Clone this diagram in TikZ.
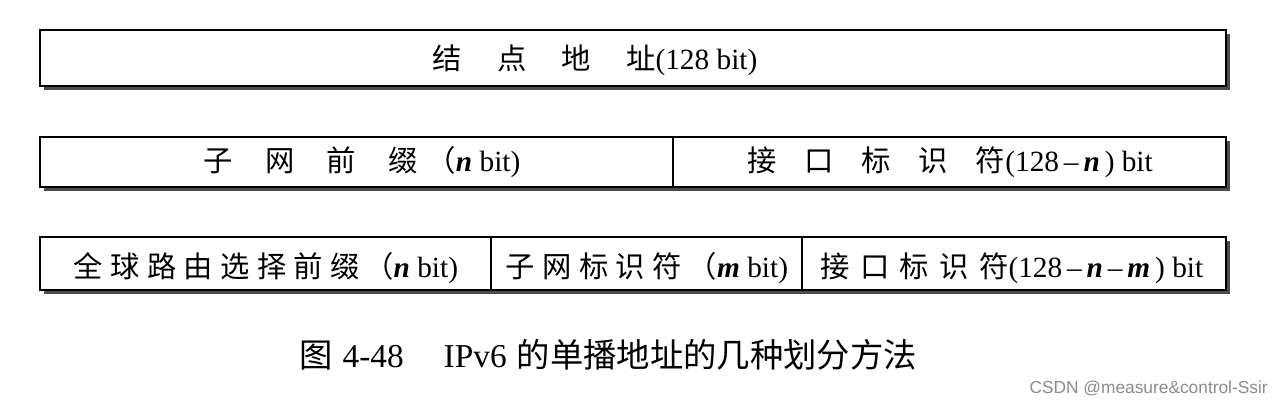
\documentclass[tikz,border=0pt]{standalone}
\usepackage{fontspec}
\setmainfont{Liberation Serif}
\newfontfamily\cjk{Noto Sans CJK SC}
\newfontfamily\wmfont{Liberation Sans}
\newcommand{\zh}[1]{{\cjk #1}}
\newcommand{\vb}[1]{\textbf{\textit{#1}}}
\begin{document}
\begin{tikzpicture}[x=0.75pt,y=-0.75pt,
  box/.style={draw=black, line width=2pt, fill=white},
  shade/.style={fill=black!70},
  divider/.style={draw=black, line width=1.2pt},
  lbl/.style={font=\fontsize{22}{26}\selectfont, inner sep=0pt},
  captext/.style={font=\fontsize{25}{30}\selectfont, inner sep=0pt},
  wm/.style={font=\wmfont\fontsize{13}{15}\selectfont, text=black!45, inner sep=0pt}]
\useasboundingbox (0,0) rectangle (1280,408);
\fill[white] (0,0) rectangle (1280,408);

% row 1
\fill[shade] (44,34) rectangle (1230,90);
\draw[box] (40,30) rectangle (1226,86);
\node[lbl] (t1) at (595,60) {\zh{结}\hspace{1.2em}\zh{点}\hspace{1.2em}\zh{地}\hspace{1.2em}\zh{址}(128 bit)};

% row 2
\fill[shade] (44,141) rectangle (1230,191);
\draw[box] (40,137) rectangle (1226,187);
\coordinate (d2t) at (673,137);
\coordinate (d2b) at (673,187);
\draw[divider] (d2t) -- (d2b);
\node[lbl] (t2l) at (362,162) {\zh{子}\hspace{1.1em}\zh{网}\hspace{1.1em}\zh{前}\hspace{1.1em}\zh{缀}\hspace{0.3em}\zh{（}\vb{n} bit)};
\node[lbl] (t2r) at (950,162) {\zh{接}\hspace{0.95em}\zh{口}\hspace{0.95em}\zh{标}\hspace{0.95em}\zh{识}\hspace{0.95em}\zh{符}(128\,--\,\vb{n}\,) bit};

% row 3
\fill[shade] (44,241) rectangle (1230,294);
\draw[box] (40,237) rectangle (1226,290);
\coordinate (d3at) at (491,237);
\coordinate (d3ab) at (491,290);
\coordinate (d3bt) at (802,237);
\coordinate (d3bb) at (802,290);
\draw[divider] (d3at) -- (d3ab);
\draw[divider] (d3bt) -- (d3bb);
\node[lbl] (t3a) at (266,268) {\zh{全}\hspace{0.25em}\zh{球}\hspace{0.25em}\zh{路}\hspace{0.25em}\zh{由}\hspace{0.25em}\zh{选}\hspace{0.25em}\zh{择}\hspace{0.25em}\zh{前}\hspace{0.25em}\zh{缀}\hspace{0.15em}\zh{（}\vb{n} bit)};
\node[lbl] (t3b) at (647,268) {\zh{子}\hspace{0.25em}\zh{网}\hspace{0.25em}\zh{标}\hspace{0.25em}\zh{识}\hspace{0.25em}\zh{符}\hspace{0.2em}\zh{（}\vb{m} bit)};
\node[lbl] (t3c) at (1012,268) {\zh{接}\hspace{0.35em}\zh{口}\hspace{0.35em}\zh{标}\hspace{0.35em}\zh{识}\hspace{0.35em}\zh{符}(128\,--\,\vb{n}\,--\,\vb{m}\,) bit};

% caption
\node[captext] (caption) at (608,355) {\zh{图}\hspace{0.3em}4-48\hspace{1.2em}IPv6\hspace{0.3em}\zh{的单播地址的几种划分方法}};

% watermark
\node[wm, anchor=east] (mark) at (1268,388) {CSDN @measure\&control-Ssir};
\end{tikzpicture}
\end{document}
